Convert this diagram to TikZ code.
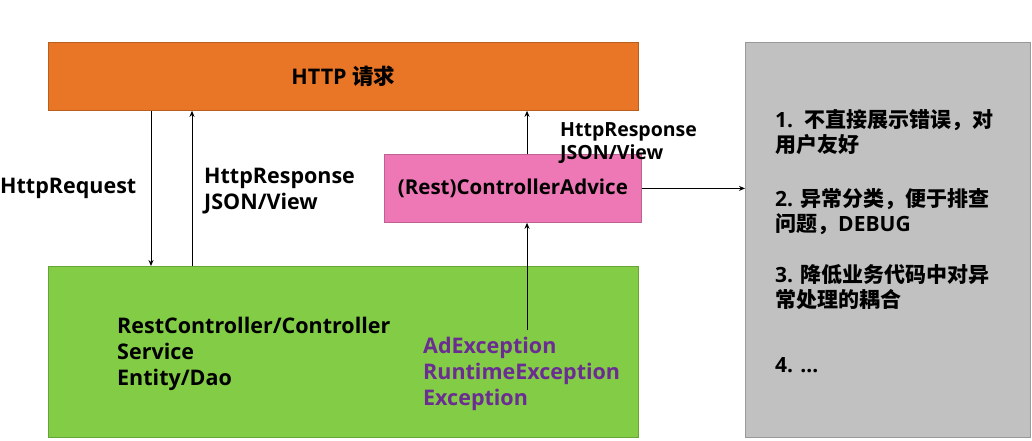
\documentclass[tikz,border=0pt]{standalone}
\usepackage{fontspec}
\setmainfont{Open Sans}
\newfontfamily\cjk{Noto Sans CJK SC}
\usetikzlibrary{arrows.meta}
\definecolor{orangebox}{HTML}{E97526}
\definecolor{greenbox}{HTML}{82CC46}
\definecolor{pinkbox}{HTML}{EE78B5}
\definecolor{graybox}{HTML}{C1C1C1}
\definecolor{purpletext}{HTML}{6B2D92}
\tikzset{
  box/.style={draw=#1!80!black, line width=0.8pt, anchor=north west, inner sep=0pt},
  arr/.style={draw=black, line width=1pt, -{Stealth[length=6pt,width=5pt]}},
  lbl/.style={font=\bfseries\fontsize{21.5}{26}\selectfont, align=left, inner sep=0pt, anchor=west},
  glbl/.style={font=\bfseries\fontsize{21}{25}\selectfont, align=left, inner sep=0pt, anchor=west},
}
\begin{document}
\begin{tikzpicture}[x=1pt,y=-1pt]
\useasboundingbox (0,0) rectangle (1032,440);
\fill[white] (0,0) rectangle (1032,440);
% boxes
\node[box=orangebox, fill=orangebox, minimum width=590pt, minimum height=68pt] (http) at (48,42) {};
\node[font=\bfseries\fontsize{21.5}{24}\selectfont] (httpt) at (http.center) {HTTP {\cjk 请求}};
\node[box=greenbox, fill=greenbox, minimum width=590pt, minimum height=171pt] (biz) at (48,266) {};
\node[box=pinkbox, fill=pinkbox, minimum width=257pt, minimum height=68pt] (adv) at (384,154) {};
\node[font=\bfseries\fontsize{20.5}{24}\selectfont] (advt) at (adv.center) {(Rest)ControllerAdvice};
\node[box=graybox, fill=graybox, draw=gray!80, minimum width=285pt, minimum height=395pt] (tips) at (745,42) {};
% coordinates for connector positions
\coordinate (xreq) at (151,0);
\coordinate (xresp) at (192,0);
\coordinate (xadv) at (527,0);
\coordinate (excsrc) at (527,330);
% connectors
\draw[arr] (http.south -| xreq) -- (biz.north -| xreq);
\draw[arr] (biz.north -| xresp) -- (http.south -| xresp);
\draw[arr] (adv.north -| xadv) -- (http.south -| xadv);
\draw[arr] (excsrc) -- (adv.south -| excsrc);
\draw[arr] (adv.east) -- (tips.west |- adv.east);
% labels
\node[lbl] (reql) at (0,188) {HttpRequest};
\node[lbl] (respl) at (204,191) {HttpResponse\\JSON/View};
\node[lbl, font=\bfseries\fontsize{19.5}{23}\selectfont] (resp2) at (560,143) {HttpResponse\\JSON/View};
\node[lbl] (layers) at (117,354) {RestController/Controller\\Service\\Entity/Dao};
\node[lbl, text=purpletext] (excs) at (423,374) {AdException\\RuntimeException\\Exception};
% tips
\node[glbl] (t1) at (775,132) {1.\ \ {\cjk 不直接展示错误，对}\\{\cjk 用户友好}};
\node[glbl] (t2) at (775,212) {2. {\cjk 异常分类，便于排查}\\{\cjk 问题，}DEBUG};
\node[glbl] (t3) at (775,287) {3. {\cjk 降低业务代码中对异}\\{\cjk 常处理的耦合}};
\node[glbl] (t4) at (775,365) {4. …};
\end{tikzpicture}
\end{document}
